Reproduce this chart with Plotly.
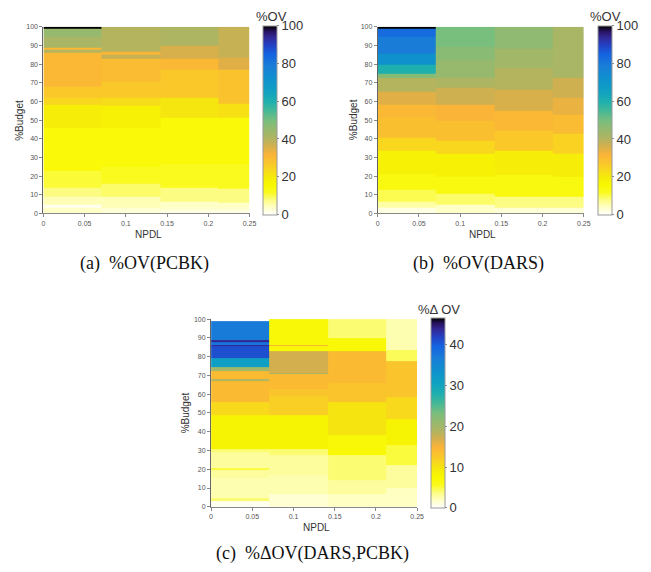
import plotly.graph_objects as go

# ---------------- data ----------------
X_EDGES = [0, 0.0707, 0.1414, 0.2121, 0.25]
X_TICKS = [0, 0.05, 0.1, 0.15, 0.2, 0.25]
X_TICK_LABELS = ["0", "0.05", "0.1", "0.15", "0.2", "0.25"]
Y_TICKS = [0, 10, 20, 30, 40, 50, 60, 70, 80, 90, 100]

# panel (a) %OV(PCBK): band edges (top-down) and values per NPDL column
a_c1_edges = [100, 99, 94.5, 88.7, 87.8, 86, 68, 62, 58, 46, 23, 14, 9, 4.6, 2.8, 0]
a_c1_vals = [100, 45, 42, 31, 40, 31, 27, 24, 19, 15, 11, 8, 5, 1, 4]
a_c2_edges = [100, 86.5, 85.2, 83, 70.7, 62, 57.5, 46, 25, 16, 9, 2.8, 0]
a_c2_vals = [40, 32, 38, 30, 27, 23, 18, 15, 12, 9, 5, 3]
a_c3_edges = [100, 89.8, 83, 77, 62, 51, 26.6, 14, 6.3, 2, 0]
a_c3_vals = [41, 36, 31, 27, 21, 15, 12, 8, 4, 2]
a_c4_edges = [100, 83.4, 77, 59, 51, 26.6, 13.4, 5.5, 2, 0]
a_c4_vals = [38, 35, 28, 22, 15, 12, 8, 4, 2]

# panel (b) %OV(DARS)
b_c1_edges = [100, 99, 94.5, 85.7, 79.5, 74.6, 72.5, 65.4, 58.4, 51.3, 40.7, 33.7, 21.3, 12.5, 6.3, 2.8, 0]
b_c1_vals = [100, 83, 79, 72, 60, 48, 40, 35, 31, 29, 24, 18, 14, 10, 6, 2]
b_c2_edges = [100, 89.2, 82.2, 72.5, 67.2, 58.4, 49.6, 39, 32, 19.6, 10.8, 4.6, 0]
b_c2_vals = [50, 47, 45, 41, 37, 32, 29, 24, 18, 14, 9, 4]
b_c3_edges = [100, 88.4, 77.8, 66.3, 54.9, 44.3, 33.7, 20.5, 9, 2.8, 0]
b_c3_vals = [46, 43, 40, 36, 31, 27, 19, 14, 8, 3]
b_c4_edges = [100, 72.5, 62, 53, 42.5, 32, 19.6, 9, 2.8, 0]
b_c4_vals = [42, 37, 34, 30, 25, 19, 14, 8, 3]

# panel (c) %ΔOV(DARS,PCBK)
c_c1_edges = [100, 99, 89, 88, 86.3, 85.4, 79.3, 74.6, 72.3, 67.9, 67, 55.6, 48.6, 31, 29.3, 20.5, 19.6, 15.3, 4.7, 3, 0]
c_c1_vals = [0, 37, 44, 38, 44, 41, 31, 20, 14, 19, 14, 11, 8, 4, 3, 5, 3, 2.5, 4, 0.5]
c_c2_edges = [100, 86.3, 85.4, 82.8, 71.4, 70.5, 62.6, 59, 48.6, 31, 27.5, 17, 6.5, 0]
c_c2_vals = [7, 15, 7, 17, 19, 14, 13, 12, 8, 4, 3, 2.5, 1.5]
c_c3_edges = [100, 89.8, 82.8, 66.1, 55.6, 38, 27.5, 14.4, 6.5, 0]
c_c3_vals = [4, 7, 14, 13, 10, 7, 4, 3, 2]
c_c4_edges = [100, 83.7, 77.5, 58.2, 46.8, 32.8, 22.3, 10, 0]
c_c4_vals = [2.5, 4.5, 13, 11, 8, 5, 3, 2]

CB_TICKS_AB = [0, 20, 40, 60, 80, 100]
CB_TICKS_C = [0, 10, 20, 30, 40]
CB_MAX_C = 46.6

# ---------------- style ----------------
W, H = 651, 572
COLORSCALE = [
    [0.00, "rgb(255,255,255)"],
    [0.04, "rgb(255,255,200)"],
    [0.08, "rgb(252,252,130)"],
    [0.12, "rgb(250,250,30)"],
    [0.16, "rgb(248,248,0)"],
    [0.20, "rgb(245,235,10)"],
    [0.24, "rgb(248,215,30)"],
    [0.28, "rgb(250,195,45)"],
    [0.32, "rgb(250,180,55)"],
    [0.36, "rgb(215,175,75)"],
    [0.40, "rgb(180,180,95)"],
    [0.45, "rgb(150,185,110)"],
    [0.50, "rgb(120,190,125)"],
    [0.55, "rgb(70,185,150)"],
    [0.60, "rgb(30,175,175)"],
    [0.66, "rgb(15,160,195)"],
    [0.72, "rgb(15,145,205)"],
    [0.79, "rgb(25,125,215)"],
    [0.85, "rgb(20,100,225)"],
    [0.90, "rgb(35,65,195)"],
    [0.94, "rgb(50,40,150)"],
    [0.97, "rgb(40,20,100)"],
    [1.00, "rgb(0,0,0)"],
]


def px_x(p):
    return p / W


def px_y(p):
    return 1 - p / H


def band_value(edges, vals, y):
    # edges are top-down; return value of band containing y
    for k in range(len(vals)):
        if edges[k] >= y >= edges[k + 1]:
            return vals[k]
    return None


def build_grid(cols):
    ys = sorted(set(e for edges, _ in cols for e in edges))
    z = []
    for r in range(len(ys) - 1):
        mid = (ys[r] + ys[r + 1]) / 2
        z.append([band_value(edges, vals, mid) for edges, vals in cols])
    return ys, z


panels = [
    dict(cols=[(a_c1_edges, a_c1_vals), (a_c2_edges, a_c2_vals), (a_c3_edges, a_c3_vals), (a_c4_edges, a_c4_vals)],
         x0=42, x1=251, top=23, bot=212, cbx=265, cmax=100, cbticks=CB_TICKS_AB, cbtitle="%OV",
         ca="coloraxis", caption="(a)  %OV(PCBK)"),
    dict(cols=[(b_c1_edges, b_c1_vals), (b_c2_edges, b_c2_vals), (b_c3_edges, b_c3_vals), (b_c4_edges, b_c4_vals)],
         x0=381, x1=590, top=23, bot=212, cbx=604, cmax=100, cbticks=CB_TICKS_AB, cbtitle="%OV",
         ca="coloraxis2", caption="(b)  %OV(DARS)"),
    dict(cols=[(c_c1_edges, c_c1_vals), (c_c2_edges, c_c2_vals), (c_c3_edges, c_c3_vals), (c_c4_edges, c_c4_vals)],
         x0=212, x1=421, top=319, bot=509, cbx=435, cmax=CB_MAX_C, cbticks=CB_TICKS_C, cbtitle="%Δ OV",
         ca="coloraxis3", caption="(c)  %ΔOV(DARS,PCBK)"),
]

fig = go.Figure()
annotations = []
layout = dict(width=W, height=H, margin=dict(l=0, r=0, t=0, b=0),
              paper_bgcolor="white", plot_bgcolor="white", showlegend=False)

tick_font = dict(family="Liberation Sans, Arial, sans-serif", size=7, color="#555")
label_font = dict(family="Liberation Sans, Arial, sans-serif", size=10, color="#333")
cb_font = dict(family="Liberation Sans, Arial, sans-serif", size=13, color="#333")
cap_font = dict(family="Liberation Serif, Times New Roman, serif", size=18, color="#111")

for i, p in enumerate(panels):
    n = "" if i == 0 else str(i + 1)
    xa, ya = "x" + n, "y" + n
    ys, z = build_grid(p["cols"])
    fig.add_trace(go.Heatmap(x=X_EDGES, y=ys, z=z, coloraxis=p["ca"],
                             xaxis=xa, yaxis=ya, hoverinfo="skip"))
    layout["xaxis" + n] = dict(
        domain=[px_x(p["x0"]), px_x(p["x1"])], anchor=ya, range=[0, 0.25],
        tickvals=X_TICKS, ticktext=X_TICK_LABELS, ticks="outside", ticklen=3,
        tickcolor="#888", tickfont=tick_font, showline=True, linecolor="#888",
        linewidth=1, showgrid=False, zeroline=False, fixedrange=True)
    layout["yaxis" + n] = dict(
        domain=[px_y(p["bot"]), px_y(p["top"])], anchor=xa, range=[0, 100],
        tickvals=Y_TICKS, ticks="outside", ticklen=3, tickcolor="#888",
        tickfont=tick_font, showline=True, linecolor="#666", linewidth=1,
        showgrid=False, zeroline=False, fixedrange=True)
    layout[p["ca"]] = dict(
        cmin=0, cmax=p["cmax"], colorscale=COLORSCALE,
        colorbar=dict(x=px_x(p["cbx"]), xanchor="left", thickness=14,
                      lenmode="pixels", len=p["bot"] - p["top"],
                      y=px_y((p["top"] + p["bot"]) / 2), yanchor="middle",
                      tickvals=p["cbticks"], ticks="outside", ticklen=2,
                      tickcolor="#888", tickfont=cb_font, outlinecolor="#999",
                      outlinewidth=1, xpad=0, ypad=0))
    cx = (p["x0"] + p["x1"]) / 2
    annotations.append(dict(text="NPDL", x=px_x(cx + 2), y=px_y(p["bot"] + 21), xref="paper", yref="paper",
                            showarrow=False, font=label_font, xanchor="center", yanchor="middle"))
    annotations.append(dict(text="%Budget", x=px_x(p["x0"] - 25), y=px_y((p["top"] + p["bot"]) / 2),
                            xref="paper", yref="paper", showarrow=False, font=label_font,
                            textangle=-90, xanchor="center", yanchor="middle"))
    annotations.append(dict(text=p["cbtitle"], x=px_x(p["cbx"] + 8), y=px_y(p["top"] - 10),
                            xref="paper", yref="paper", showarrow=False, font=cb_font,
                            xanchor="center", yanchor="middle"))
    cap_y = p["bot"] + 51 if i < 2 else p["bot"] + 47
    annotations.append(dict(text=p["caption"], x=px_x(cx - 2), y=px_y(cap_y), xref="paper", yref="paper",
                            showarrow=False, font=cap_font, xanchor="center", yanchor="middle"))

layout["annotations"] = annotations
fig.update_layout(**layout)
fig.write_html("out.html", config={"displayModeBar": False},
               post_script="document.body.style.margin='0px';")
